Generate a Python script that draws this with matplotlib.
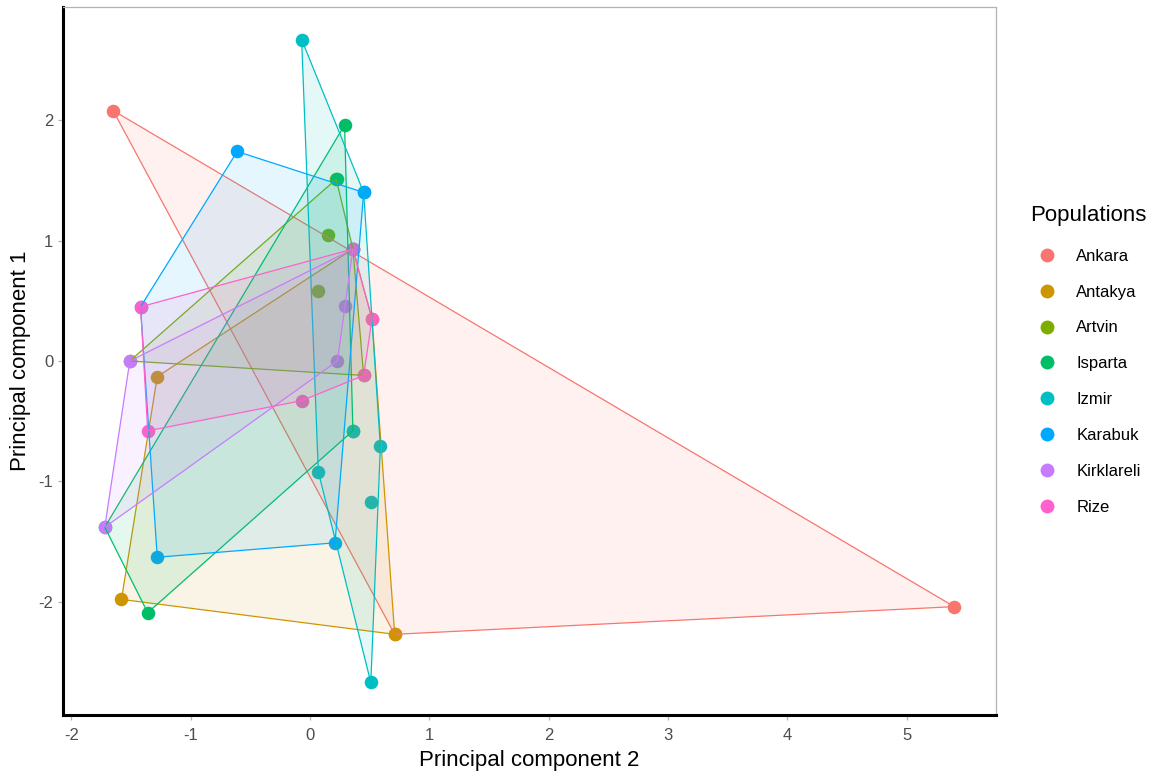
import matplotlib.pyplot as plt
from matplotlib.lines import Line2D
import numpy as np

plt.rcParams['font.family'] = ['Liberation Sans', 'DejaVu Sans']
plt.rcParams['axes.unicode_minus'] = False

# PCA scores per population (PC2 on x, PC1 on y)
populations = ['Ankara', 'Antakya', 'Artvin', 'Isparta', 'Izmir', 'Karabuk', 'Kirklareli', 'Rize']
colors = ['#F8766D', '#CD9600', '#7CAE00', '#00BE67', '#00BFC4', '#00A9FF', '#C77CFF', '#FF61CC']

ankara_pc2 = [-1.65, 5.40, 0.71]
ankara_pc1 = [2.08, -2.04, -2.27]
antakya_pc2 = [-1.58, -1.28, 0.36, 0.52, 0.71]
antakya_pc1 = [-1.98, -0.13, 0.93, 0.35, -2.27]
artvin_pc2 = [0.22, 0.15, 0.07, -1.51, 0.45, 0.36]
artvin_pc1 = [1.51, 1.05, 0.58, 0.00, -0.12, 0.93]
isparta_pc2 = [0.29, 0.23, -1.72, -1.36, 0.36]
isparta_pc1 = [1.96, 1.51, -1.38, -2.09, -0.58]
izmir_pc2 = [-0.07, 0.45, 0.59, 0.51, 0.07, 0.51, 0.36]
izmir_pc1 = [2.67, 1.40, -0.71, -2.67, -0.92, -1.17, -0.58]
karabuk_pc2 = [-0.61, 0.45, 0.21, -1.28, -1.42]
karabuk_pc1 = [1.74, 1.40, -1.51, -1.63, 0.45]
kirklareli_pc2 = [-1.51, -1.72, 0.23, 0.29, 0.36]
kirklareli_pc1 = [0.00, -1.38, 0.00, 0.46, 0.93]
rize_pc2 = [-1.42, 0.36, 0.52, 0.45, -0.07, -1.36]
rize_pc1 = [0.45, 0.93, 0.35, -0.12, -0.33, -0.58]

pc2 = [ankara_pc2, antakya_pc2, artvin_pc2, isparta_pc2,
       izmir_pc2, karabuk_pc2, kirklareli_pc2, rize_pc2]
pc1 = [ankara_pc1, antakya_pc1, artvin_pc1, isparta_pc1,
       izmir_pc1, karabuk_pc1, kirklareli_pc1, rize_pc1]


def convex_hull(xs, ys):
    # monotone chain, returns hull vertices in order
    pts = sorted(set(zip(xs, ys)))
    if len(pts) < 3:
        return pts

    def cross(o, a, b):
        return (a[0] - o[0]) * (b[1] - o[1]) - (a[1] - o[1]) * (b[0] - o[0])

    lower = []
    for p in pts:
        while len(lower) >= 2 and cross(lower[-2], lower[-1], p) <= 0:
            lower.pop()
        lower.append(p)
    upper = []
    for p in reversed(pts):
        while len(upper) >= 2 and cross(upper[-2], upper[-1], p) <= 0:
            upper.pop()
        upper.append(p)
    return lower[:-1] + upper[:-1]


fig = plt.figure(figsize=(11.57, 7.79), dpi=100)
ax = fig.add_axes([63 / 1157, 1 - 715 / 779, (996 - 63) / 1157, (715 - 7) / 779])

for name, col, xs, ys in zip(populations, colors, pc2, pc1):
    ax.scatter(xs, ys, s=95, color=col, zorder=2, linewidths=0)

# hulls go on top of the points, light fill plus coloured outline
for name, col, xs, ys in zip(populations, colors, pc2, pc1):
    hull = np.array(convex_hull(xs, ys))
    ax.fill(hull[:, 0], hull[:, 1], facecolor=col, alpha=0.1, edgecolor='none', zorder=3)
    ax.fill(hull[:, 0], hull[:, 1], facecolor='none', edgecolor=col, linewidth=0.9, zorder=3)

ax.set_xlim(-2.07, 5.75)
ax.set_ylim(-2.94, 2.94)
ax.set_xticks(range(-2, 6))
ax.set_yticks(range(-2, 3))

for side in ['top', 'right']:
    ax.spines[side].set_color('#b3b3b3')
    ax.spines[side].set_linewidth(0.9)
for side in ['left', 'bottom']:
    ax.spines[side].set_color('black')
    ax.spines[side].set_linewidth(2.2)

ax.tick_params(axis='both', colors='#b3b3b3', labelcolor='#4d4d4d', labelsize=12, length=3.5, width=0.9)
ax.tick_params(axis='x', pad=6)
ax.set_xlabel('Principal component 2', fontsize=16, labelpad=5)
ax.set_ylabel('Principal component 1', fontsize=16, labelpad=5)

handles = [Line2D([0], [0], marker='o', linestyle='none', markersize=10,
                  markerfacecolor=c, markeredgewidth=0) for c in colors]
fig.text(1030 / 1157, 1 - 216 / 779, 'Populations', fontsize=16, ha='left', va='center')
leg = fig.legend(handles, populations, loc='upper left', bbox_to_anchor=(1028 / 1157, 1 - 242 / 779),
                 frameon=False, fontsize=12, labelspacing=1.25, handletextpad=1.0,
                 handlelength=1.5, borderaxespad=0)

fig.savefig('out.png', dpi=100, facecolor='white')
